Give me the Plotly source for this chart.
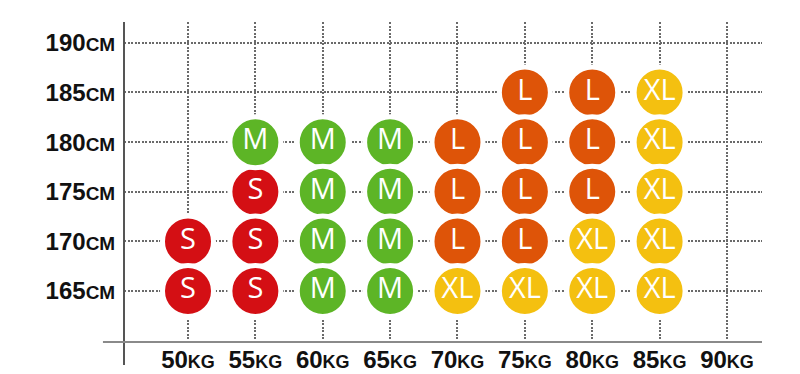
import plotly.graph_objects as go

weights = [50, 55, 60, 65, 70, 75, 80, 85, 90]
heights = [165, 170, 175, 180, 185, 190]
x_labels = ["50", "55", "60", "65", "70", "75", "80", "85", "90"]
y_labels = ["165", "170", "175", "180", "185", "190"]

s_w = [50, 50, 55, 55, 55]
s_h = [170, 165, 175, 170, 165]
m_w = [55, 60, 60, 60, 60, 65, 65, 65, 65]
m_h = [180, 180, 175, 170, 165, 180, 175, 170, 165]
l_w = [70, 70, 70, 75, 75, 75, 75, 80, 80, 80]
l_h = [180, 175, 170, 185, 180, 175, 170, 185, 180, 175]
xl_w = [70, 75, 80, 80, 85, 85, 85, 85, 85]
xl_h = [165, 165, 170, 165, 185, 180, 175, 170, 165]

sizes = [
    ("S", s_w, s_h, "#d40f14"),
    ("M", m_w, m_h, "#5db526"),
    ("L", l_w, l_h, "#de5408"),
    ("XL", xl_w, xl_h, "#f4c010"),
]

fig = go.Figure()
for name, xs, ys, col in sizes:
    fig.add_trace(go.Scatter(
        x=xs, y=ys, mode="markers+text", name=name,
        text=[name] * len(xs), textposition="middle center",
        textfont=dict(family="Open Sans", size=29, color="white"),
        marker=dict(size=51, color=col, line=dict(color="white", width=5)),
        cliponaxis=False, hoverinfo="skip",
    ))

grid = dict(showgrid=True, gridcolor="#6a6a6a", gridwidth=2, griddash="2px,1.5px",
            zeroline=False, showline=False, automargin=False)

fig.update_xaxes(
    range=[45.25, 92.6], tickmode="array", tickvals=weights,
    ticktext=[f"<b>{t}<span style='font-size:18px'>KG</span></b>" for t in x_labels],
    tickfont=dict(family="Liberation Sans", size=24, color="#111"),
    ticks="", ticklabelstandoff=1, **grid,
)
fig.update_yaxes(
    range=[159.87, 192.1], tickmode="array", tickvals=heights,
    ticktext=[f"<b>{t}<span style='font-size:19px'>CM</span></b>" for t in y_labels],
    tickfont=dict(family="Liberation Sans", size=24, color="#111"),
    ticks="outside", ticklen=3, tickcolor="rgba(0,0,0,0)", **grid,
)

fig.add_shape(type="line", xref="paper", yref="paper", x0=0, x1=0, y0=-0.072, y1=1,
              line=dict(color="#555", width=2), layer="above")
fig.add_shape(type="line", xref="paper", yref="paper", x0=-0.033, x1=1, y0=0, y1=0,
              line=dict(color="#8a8a8a", width=2), layer="above")

fig.update_layout(
    width=800, height=374, showlegend=False,
    margin=dict(l=124, r=38, t=22, b=32, autoexpand=False),
    paper_bgcolor="white", plot_bgcolor="white",
)

fig.write_html("out.html")
